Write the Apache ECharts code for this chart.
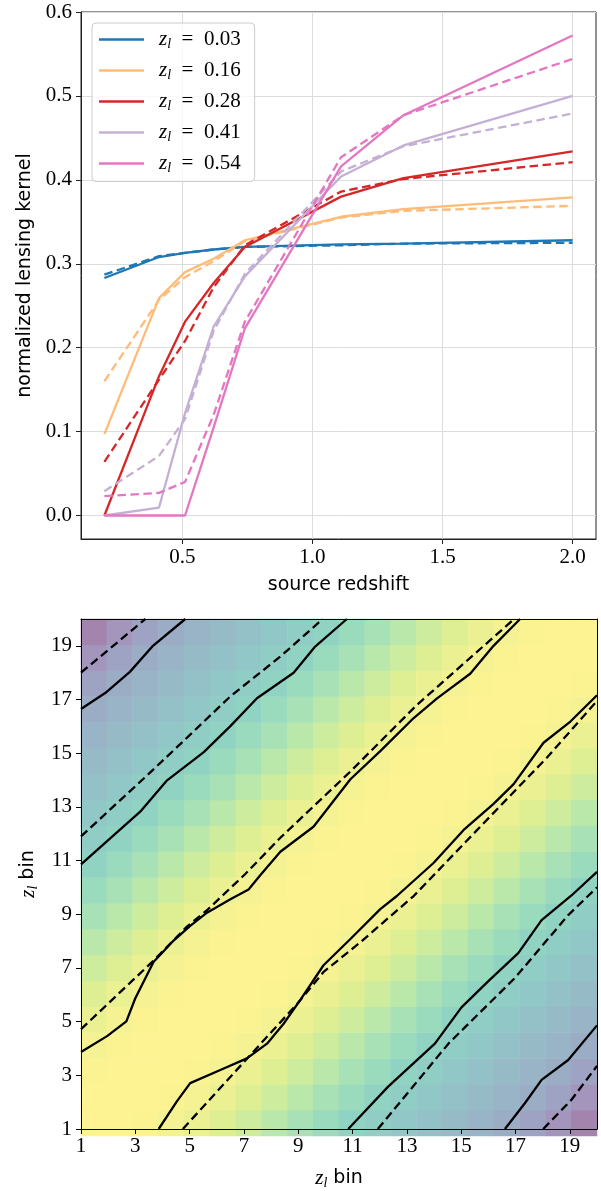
<!DOCTYPE html>
<html><head><meta charset="utf-8">
<script src="https://cdn.jsdelivr.net/npm/echarts@6/dist/echarts.min.js"></script>
<style>html,body{margin:0;padding:0;background:#fff}#c{width:601px;height:1191px}</style>
</head><body><div id="c"></div>
<script>
// ---------- top panel data ----------
const sourceRedshift = [0.2, 0.41, 0.51, 0.62, 0.74, 1.11, 1.35, 2.0];
const lensRedshifts = ['0.03', '0.16', '0.28', '0.41', '0.54'];
const kernelSolid003 = [0.283, 0.308, 0.313, 0.317, 0.320, 0.323, 0.324, 0.328];
const kernelDashed003 = [0.287, 0.309, 0.313, 0.317, 0.320, 0.322, 0.324, 0.325];
const kernelSolid016 = [0.097, 0.259, 0.290, 0.306, 0.328, 0.356, 0.365, 0.379];
const kernelDashed016 = [0.160, 0.257, 0.284, 0.303, 0.327, 0.355, 0.363, 0.369];
const kernelSolid028 = [0.000, 0.166, 0.231, 0.277, 0.320, 0.380, 0.402, 0.434];
const kernelDashed028 = [0.064, 0.162, 0.208, 0.272, 0.322, 0.386, 0.401, 0.421];
const kernelSolid041 = [0.000, 0.0095, 0.122, 0.225, 0.285, 0.404, 0.441, 0.500];
const kernelDashed041 = [0.029, 0.071, 0.115, 0.220, 0.288, 0.410, 0.440, 0.479];
const kernelSolid054 = [0.000, 0.000, 0.000, 0.105, 0.223, 0.416, 0.477, 0.572];
const kernelDashed054 = [0.023, 0.027, 0.040, 0.120, 0.231, 0.427, 0.477, 0.544];
const kernelYTicks = [0, 0.1, 0.2, 0.3, 0.4, 0.5, 0.6];
const kernelXTicks = [0.5, 1.0, 1.5, 2.0];

// ---------- bottom panel data ----------
const binTicks = [1, 3, 5, 7, 9, 11, 13, 15, 17, 19];
const binCategories = [0,1,2,3,4,5,6,7,8,9,10,11,12,13,14,15,16,17,18,19];
// row 0 = lowest bin (bottom), column 0 = first bin (left)
const binMatrix = [
 [1.00,1.00,0.99,0.97,0.94,0.90,0.85,0.79,0.72,0.65,0.59,0.54,0.49,0.44,0.39,0.34,0.28,0.21,0.12,0.02],
 [1.00,1.00,1.00,0.99,0.97,0.94,0.90,0.85,0.79,0.72,0.65,0.59,0.54,0.49,0.44,0.39,0.34,0.28,0.21,0.12],
 [0.99,1.00,1.00,1.00,0.99,0.97,0.94,0.90,0.85,0.79,0.72,0.65,0.59,0.54,0.49,0.44,0.39,0.34,0.28,0.21],
 [0.97,0.99,1.00,1.00,1.00,0.99,0.97,0.94,0.90,0.85,0.79,0.72,0.65,0.59,0.54,0.49,0.44,0.39,0.34,0.28],
 [0.94,0.97,0.99,1.00,1.00,1.00,0.99,0.97,0.94,0.90,0.85,0.79,0.72,0.65,0.59,0.54,0.49,0.44,0.39,0.34],
 [0.90,0.94,0.97,0.99,1.00,1.00,1.00,0.99,0.97,0.94,0.90,0.85,0.79,0.72,0.65,0.59,0.54,0.49,0.44,0.39],
 [0.85,0.90,0.94,0.97,0.99,1.00,1.00,1.00,0.99,0.97,0.94,0.90,0.85,0.79,0.72,0.65,0.59,0.54,0.49,0.44],
 [0.79,0.85,0.90,0.94,0.97,0.99,1.00,1.00,1.00,0.99,0.97,0.94,0.90,0.85,0.79,0.72,0.65,0.59,0.54,0.49],
 [0.72,0.79,0.85,0.90,0.94,0.97,0.99,1.00,1.00,1.00,0.99,0.97,0.94,0.90,0.85,0.79,0.72,0.65,0.59,0.54],
 [0.65,0.72,0.79,0.85,0.90,0.94,0.97,0.99,1.00,1.00,1.00,0.99,0.97,0.94,0.90,0.85,0.79,0.72,0.65,0.59],
 [0.59,0.65,0.72,0.79,0.85,0.90,0.94,0.97,0.99,1.00,1.00,1.00,0.99,0.97,0.94,0.90,0.85,0.79,0.72,0.65],
 [0.54,0.59,0.65,0.72,0.79,0.85,0.90,0.94,0.97,0.99,1.00,1.00,1.00,0.99,0.97,0.94,0.90,0.85,0.79,0.72],
 [0.49,0.54,0.59,0.65,0.72,0.79,0.85,0.90,0.94,0.97,0.99,1.00,1.00,1.00,0.99,0.97,0.94,0.90,0.85,0.79],
 [0.44,0.49,0.54,0.59,0.65,0.72,0.79,0.85,0.90,0.94,0.97,0.99,1.00,1.00,1.00,0.99,0.97,0.94,0.90,0.85],
 [0.39,0.44,0.49,0.54,0.59,0.65,0.72,0.79,0.85,0.90,0.94,0.97,0.99,1.00,1.00,1.00,0.99,0.97,0.94,0.90],
 [0.34,0.39,0.44,0.49,0.54,0.59,0.65,0.72,0.79,0.85,0.90,0.94,0.97,0.99,1.00,1.00,1.00,0.99,0.97,0.94],
 [0.28,0.34,0.39,0.44,0.49,0.54,0.59,0.65,0.72,0.79,0.85,0.90,0.94,0.97,0.99,1.00,1.00,1.00,0.99,0.97],
 [0.21,0.28,0.34,0.39,0.44,0.49,0.54,0.59,0.65,0.72,0.79,0.85,0.90,0.94,0.97,0.99,1.00,1.00,1.00,0.99],
 [0.12,0.21,0.28,0.34,0.39,0.44,0.49,0.54,0.59,0.65,0.72,0.79,0.85,0.90,0.94,0.97,0.99,1.00,1.00,1.00],
 [0.02,0.12,0.21,0.28,0.34,0.39,0.44,0.49,0.54,0.59,0.65,0.72,0.79,0.85,0.90,0.94,0.97,0.99,1.00,1.00]
];
const contourSolidOuterUpper = [[1,16.65],[1.89,17.24],[2.8,18.03],[3.65,19.0],[4.84,20]];
const contourDashedOuterUpper = [[1,18.0],[3.37,20]];
const contourSolidMidUpper = [[1,10.86],[3.18,12.82],[4.17,13.99],[5.51,15.03],[6.5,16.01],[7.48,17.05],[8.83,18.0],[9.6,18.95],[10.79,20]];
const contourDashedMidUpper = [[1,11.9],[3.43,14.17],[5.03,15.7],[6.5,17.12],[8.34,18.6],[9.9,20]];
const contourSolidInnerUpper = [[1,3.87],[1.96,4.46],[2.67,5.01],[3.0,5.87],[3.67,7.22],[4.41,8.02],[5.02,8.57],[5.64,9.06],[6.5,9.56],[7.17,9.92],[7.6,10.45],[8.34,11.33],[9.56,12.26],[10.92,14.03],[12.02,15.08],[13.25,16.31],[14.11,17.04],[15.33,17.96],[16.19,19.0],[17.17,20]];
const contourDashedInnerUpper = [[1,4.72],[3.67,7.27],[4.9,8.54],[5.64,9.15],[7.05,10.5],[8.34,11.85],[10.9,14.3],[13.37,16.8],[16.95,20]];
const contourSolidInnerLower = [[3.86,1],[4.53,2.03],[5.02,2.71],[6.13,3.2],[7.11,3.63],[7.85,4.18],[8.46,4.92],[9.07,5.8],[9.93,7.1],[10.92,8.08],[12.02,9.19],[12.63,9.68],[13.98,10.91],[15.09,12.14],[16.19,13.11],[16.93,13.85],[18.03,15.39],[19.02,16.18],[20,17.16]];
const contourDashedInnerLower = [[4.75,1],[7.23,3.75],[8.95,5.65],[9.93,6.85],[11.29,7.96],[13.25,9.68],[15.7,12.26],[18.16,14.84],[20,16.95]];
const contourSolidMidLower = [[10.84,1],[12.31,2.58],[14.03,4.18],[15.01,5.53],[16.0,6.51],[17.1,7.55],[17.96,8.78],[19.06,9.7],[20,10.58]];
const contourDashedMidLower = [[11.93,1],[14.53,4.18],[16.98,6.63],[18.94,8.97],[20,10.0]];
const contourSolidOuterLower = [[16.61,1],[17.35,1.97],[17.96,2.83],[18.94,3.57],[20,4.86]];
const contourDashedOuterLower = [[18.02,1],[19.06,2.09],[20,3.35]];

// ---------- styles ----------
const lineColors = ['#1f77b4', '#ffbb78', '#d62728', '#c5b0d5', '#e377c2'];
const viridisOnWhite = ['#a280aa','#a492ba','#a0a2c3','#9aafc6','#95bcc7','#90c8c6','#91d4c2','#a2dfb8','#bde8a8','#deef93','#fef392'];
const SERIF = 'Liberation Serif';
const SANS = 'DejaVu Sans';
const axisColor = '#222';

const solidSets = [kernelSolid003, kernelSolid016, kernelSolid028, kernelSolid041, kernelSolid054];
const dashedSets = [kernelDashed003, kernelDashed016, kernelDashed028, kernelDashed041, kernelDashed054];

const series = [];
lensRedshifts.forEach((z, i) => {
  series.push({
    type: 'line', name: z, xAxisIndex: 0, yAxisIndex: 0,
    data: sourceRedshift.map((x, j) => [x, solidSets[i][j]]),
    showSymbol: false, symbol: 'none', animation: false,
    lineStyle: { color: lineColors[i], width: 2.3 }, itemStyle: { color: lineColors[i] }
  });
  series.push({
    type: 'line', name: z + ' dashed', xAxisIndex: 0, yAxisIndex: 0,
    data: sourceRedshift.map((x, j) => [x, dashedSets[i][j]]),
    showSymbol: false, symbol: 'none', animation: false,
    lineStyle: { color: lineColors[i], width: 2.3, type: [8.5, 4.5] }, itemStyle: { color: lineColors[i] }
  });
});

const heatIndex = series.length;
const heatData = [];
binMatrix.forEach((row, r) => row.forEach((v, c) => heatData.push([c, r, v])));
series.push({
  type: 'heatmap', xAxisIndex: 1, yAxisIndex: 1, data: heatData, animation: false,
  itemStyle: { borderWidth: 0 }, emphasis: { disabled: true }
});

const contours = [
  [contourSolidOuterUpper, 'solid'], [contourDashedOuterUpper, 'dashed'],
  [contourSolidMidUpper, 'solid'], [contourDashedMidUpper, 'dashed'],
  [contourSolidInnerUpper, 'solid'], [contourDashedInnerUpper, 'dashed'],
  [contourSolidInnerLower, 'solid'], [contourDashedInnerLower, 'dashed'],
  [contourSolidMidLower, 'solid'], [contourDashedMidLower, 'dashed'],
  [contourSolidOuterLower, 'solid'], [contourDashedOuterLower, 'dashed']
];
contours.forEach(([pts, kind]) => {
  series.push({
    type: 'line', xAxisIndex: 2, yAxisIndex: 2, data: pts, showSymbol: false, symbol: 'none',
    animation: false, z: 5,
    lineStyle: { color: '#000', width: 2.3, type: kind === 'solid' ? 'solid' : [8.5, 4.5] }
  });
});

const tickLabel = { fontFamily: SERIF, fontSize: 21, color: '#000' };
const richZ = {
  i: { fontFamily: SERIF, fontStyle: 'italic', fontSize: 21, lineHeight: 24, color: '#000' },
  s: { fontFamily: SERIF, fontStyle: 'italic', fontSize: 14, lineHeight: 14, verticalAlign: 'bottom', color: '#000' },
  t: { fontFamily: SERIF, fontSize: 21, lineHeight: 24, color: '#000' },
  n: { fontFamily: SANS, fontSize: 19, lineHeight: 24, color: '#000' }
};

const option = {
  backgroundColor: '#fff',
  animation: false,
  grid: [
    { left: 81, top: 12, width: 515, height: 527, show: true, borderColor: axisColor, borderWidth: 1 },
    { left: 81, top: 619, width: 516, height: 517 },
    { left: 81, top: 619, width: 516, height: 517 }
  ],
  legend: {
    data: lensRedshifts, left: 92, top: 23, orient: 'vertical', icon: 'rect',
    itemWidth: 45, itemHeight: 2.5, itemGap: 8.5, padding: [6, 14, 6, 7],
    borderColor: '#ccc', borderWidth: 1, borderRadius: 4, backgroundColor: 'rgba(255,255,255,0.8)',
    selectedMode: false,
    formatter: n => '{i|z}{s|l}{t|  =  ' + n + '}',
    textStyle: { padding: [0, 0, 0, 10], rich: richZ }
  },
  visualMap: {
    type: 'continuous', show: false, min: 0, max: 1, seriesIndex: heatIndex,
    inRange: { color: viridisOnWhite }
  },
  xAxis: [
    {
      type: 'value', gridIndex: 0, min: 0.11, max: 2.09,
      axisLine: { show: true, onZero: false, lineStyle: { color: axisColor, width: 1 } },
      axisTick: { show: true, length: 5, customValues: kernelXTicks, lineStyle: { color: axisColor } },
      axisLabel: { customValues: kernelXTicks, formatter: v => v.toFixed(1), margin: 8, ...tickLabel },
      splitLine: { show: true, lineStyle: { color: '#dcdcdc', width: 1 } },
      name: 'source redshift', nameLocation: 'middle', nameGap: 37,
      nameTextStyle: { fontFamily: SANS, fontSize: 19, color: '#000' }
    },
    {
      type: 'category', gridIndex: 1, data: binCategories, show: false, boundaryGap: true
    },
    {
      type: 'value', gridIndex: 2, min: 1, max: 20, z: 10,
      axisLine: { show: true, onZero: false, lineStyle: { color: '#000', width: 1 } },
      axisTick: { show: true, length: 5, customValues: binTicks, lineStyle: { color: '#000' } },
      axisLabel: { customValues: binTicks, margin: 7, ...tickLabel },
      splitLine: { show: false },
      name: '{i|z}{s|l}{n| bin}', nameLocation: 'middle', nameGap: 37,
      nameTextStyle: { rich: richZ }
    },
    {
      type: 'value', gridIndex: 2, min: 1, max: 20, position: 'top', z: 10,
      axisLine: { show: true, onZero: false, lineStyle: { color: '#000', width: 1 } },
      axisTick: { show: false }, axisLabel: { show: false }, splitLine: { show: false }
    }
  ],
  yAxis: [
    {
      type: 'value', gridIndex: 0, min: -0.028, max: 0.6,
      axisLine: { show: true, onZero: false, lineStyle: { color: axisColor, width: 1 } },
      axisTick: { show: true, length: 5, customValues: kernelYTicks, lineStyle: { color: axisColor } },
      axisLabel: { customValues: kernelYTicks, formatter: v => v.toFixed(1), margin: 9, ...tickLabel },
      splitLine: { show: true, lineStyle: { color: '#dcdcdc', width: 1 } },
      name: 'normalized lensing kernel', nameLocation: 'middle', nameGap: 41, nameRotate: 90,
      nameTextStyle: { fontFamily: SANS, fontSize: 19, color: '#000' }
    },
    {
      type: 'category', gridIndex: 1, data: binCategories, show: false, boundaryGap: true
    },
    {
      type: 'value', gridIndex: 2, min: 1, max: 20, z: 10,
      axisLine: { show: true, onZero: false, lineStyle: { color: '#000', width: 1 } },
      axisTick: { show: true, length: 5, customValues: binTicks, lineStyle: { color: '#000' } },
      axisLabel: { customValues: binTicks, margin: 9, ...tickLabel },
      splitLine: { show: false },
      name: '{i|z}{s|l}{n| bin}', nameLocation: 'middle', nameGap: 40, nameRotate: 90,
      nameTextStyle: { rich: richZ }
    },
    {
      type: 'value', gridIndex: 2, min: 1, max: 20, position: 'right', z: 10,
      axisLine: { show: true, onZero: false, lineStyle: { color: '#000', width: 1 } },
      axisTick: { show: false }, axisLabel: { show: false }, splitLine: { show: false }
    }
  ],
  series: series
};

const chart = echarts.init(document.getElementById('c'), null, { renderer: 'canvas' });
chart.setOption(option);
</script>
</body></html>
